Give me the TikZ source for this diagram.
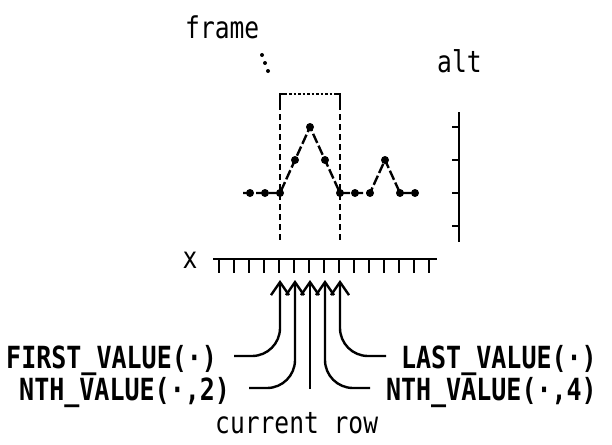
\documentclass[tikz,border=0pt]{standalone}
\usepackage{fontspec}
\setmonofont{DejaVu Sans Mono}[FakeStretch=0.82]
\usepackage{tikz}
\usetikzlibrary{arrows.meta, positioning}

\begin{document}
\begin{tikzpicture}[x=1pt, y=-1pt, line width=2.4pt,
    font=\ttfamily\fontsize{30}{36}\selectfont,
    axisline/.style={line width=2.4pt},
    dataline/.style={line width=2.4pt, dash pattern=on 10pt off 3pt},
    framedge/.style={line width=2.4pt, dash pattern=on 6pt off 4pt},
    frametop/.style={line width=2.4pt, dash pattern=on 2.5pt off 2pt},
    fnlabel/.style={inner sep=0pt, font=\ttfamily\bfseries\fontsize{30.5}{36}\selectfont},
    plainlabel/.style={inner sep=0pt},
    arrowline/.style={line width=2.4pt, -{Straight Barb[length=13pt, width=18pt, line width=2.4pt]}}]

    \useasboundingbox (0,0) rectangle (612,444);

    % Labels
    \node (frame) [plainlabel, anchor=base west] at (184,38) {frame};
    \node (alt) [plainlabel, anchor=base west] at (436,72) {alt};
    \node (xlab) [plainlabel, anchor=base] at (190,268) {x};
    \foreach \p in {(262,55),(265,63),(268,71)}
        \fill \p circle (2pt);

    % Right axis
    \draw[axisline] (459,112) -- (459,242);
    \foreach \y in {127,160,193,226}
        \draw[axisline] (452,\y) -- (459,\y);

    % Row axis with ticks
    \draw[axisline] (213,259) -- (437,259);
    \foreach \i in {0,...,14}
        \draw[axisline] (219+15*\i,259) -- (219+15*\i,273);

    % Frame
    \draw[framedge] (280,94) -- (280,242);
    \draw[framedge] (340,94) -- (340,242);
    \draw[frametop] (280,94) -- (340,94);
    \draw[line width=2.4pt] (280,104) -- (280,94) -- (286,94);
    \draw[line width=2.4pt] (334,94) -- (340,94) -- (340,104);

    % Data
    \coordinate (p0) at (243,193);
    \foreach \v [count=\i] in {0,0,0,1,2,1,0,0,0,1,0,0}
        \coordinate (p\i) at (235+15*\i,193-33*\v);
    \draw[dataline] (p0) \foreach \i in {1,...,12} {-- (p\i)};
    \foreach \i in {1,...,12}
        \fill (p\i) circle (4pt);

    % Function labels
    \node (first) [fnlabel, anchor=base west] at (5,368) {FIRST\_VALUE(·)};
    \node (nth2) [fnlabel, anchor=base west] at (18,400) {NTH\_VALUE(·,2)};
    \node (last) [fnlabel, anchor=base east] at (598,368) {LAST\_VALUE(·)};
    \node (nth4) [fnlabel, anchor=base east] at (598,400) {NTH\_VALUE(·,4)};
    \node (cur) [plainlabel, anchor=base west] at (214,433) {current row};

    % Arrows to rows
    \coordinate (r1) at (280,280);
    \coordinate (r2) at (295,280);
    \coordinate (r3) at (310,280);
    \coordinate (r4) at (325,280);
    \coordinate (r5) at (340,280);
    \coordinate (first-end) at (234,356);
    \coordinate (nth2-end) at (249,388);
    \coordinate (cur-end) at (310,389);
    \coordinate (nth4-end) at (370,388);
    \coordinate (last-end) at (386,356);

    \draw[arrowline, rounded corners=28pt] (first-end) -| (r1);
    \draw[arrowline, rounded corners=28pt] (nth2-end) -| (r2);
    \draw[arrowline] (cur-end) -- (r3);
    \draw[arrowline, rounded corners=28pt] (nth4-end) -| (r4);
    \draw[arrowline, rounded corners=28pt] (last-end) -| (r5);
\end{tikzpicture}
\end{document}
